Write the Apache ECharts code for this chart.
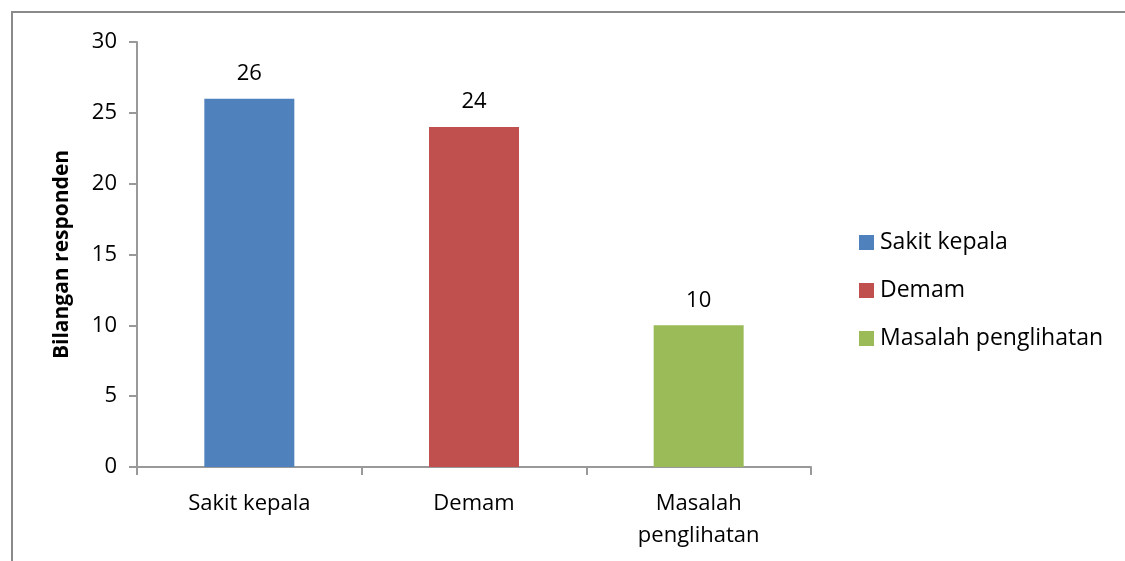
<!DOCTYPE html>
<html>
<head>
<meta charset="utf-8">
<script src="https://cdn.jsdelivr.net/npm/echarts@6/dist/echarts.min.js"></script>
<style>
  html, body { margin: 0; padding: 0; background: #fff; }
  #chart { width: 1125px; height: 561px; }
</style>
</head>
<body>
<div id="chart"></div>
<script>
// data
var categories = ['Sakit kepala', 'Demam', 'Masalah\npenglihatan'];
var seriesNames = ['Sakit kepala', 'Demam', 'Masalah penglihatan'];
var values = [26, 24, 10];
var colors = ['#4f81bd', '#c0504d', '#9bbb59'];
var yTicks = [0, 5, 10, 15, 20, 25, 30];

var font = '"Open Sans", Lato, sans-serif';

// one series per bar so each gets its own legend entry
var series = seriesNames.map(function (name, i) {
    var d = categories.map(function (c, j) { return j === i ? values[i] : '-'; });
    return {
        name: name,
        type: 'bar',
        stack: 'all',
        barWidth: 90,
        data: d,
        itemStyle: { color: colors[i] },
        label: {
            show: true,
            position: 'top',
            distance: 14,
            color: '#000',
            fontSize: 22,
            fontFamily: font
        }
    };
});

var myChart = echarts.init(document.getElementById('chart'));
myChart.setOption({
    animation: false,
    backgroundColor: '#fff',
    color: colors,
    graphic: [{
        type: 'rect',
        shape: { x: 12, y: 12, width: 1200, height: 600 },
        style: { fill: 'none', stroke: '#8a8a8a', lineWidth: 2 },
        silent: true
    }],
    grid: { left: 137, right: 314, top: 42, bottom: 94 },
    legend: {
        orient: 'vertical',
        left: 854,
        top: 226,
        itemWidth: 15,
        itemHeight: 15,
        itemGap: 25,
        icon: 'rect',
        textStyle: { fontSize: 23, fontFamily: font, color: '#000', padding: [0, 0, 0, 1] },
        data: seriesNames
    },
    xAxis: {
        type: 'category',
        data: categories,
        axisLine: { lineStyle: { color: '#999', width: 2 } },
        axisTick: { show: true, length: 8, lineStyle: { color: '#999', width: 2 } },
        axisLabel: { fontSize: 22, fontFamily: font, color: '#000', margin: 21, lineHeight: 32 }
    },
    yAxis: {
        type: 'value',
        min: yTicks[0],
        max: yTicks[yTicks.length - 1],
        interval: 5,
        name: 'Bilangan responden',
        nameLocation: 'middle',
        nameGap: 64,
        nameTextStyle: { fontSize: 21, fontWeight: 'bold', fontFamily: font, color: '#000' },
        axisLine: { show: true, lineStyle: { color: '#999', width: 2 } },
        axisTick: { show: true, length: 8, lineStyle: { color: '#999', width: 2 } },
        splitLine: { show: false },
        axisLabel: { fontSize: 22, fontFamily: font, color: '#000', margin: 20 }
    },
    series: series
});
</script>
</body>
</html>
